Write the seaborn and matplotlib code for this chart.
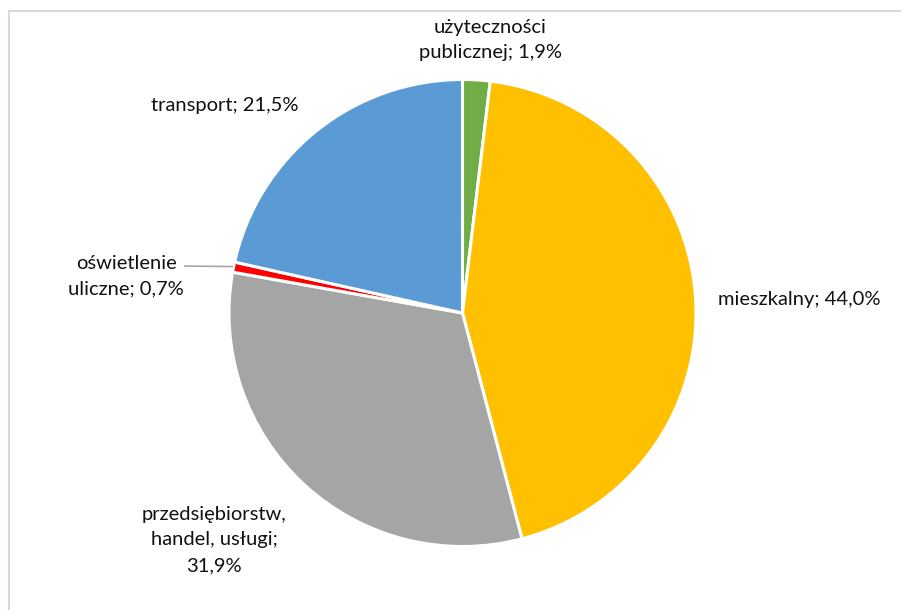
import seaborn as sns
import matplotlib.pyplot as plt
from matplotlib.patches import Rectangle

# dane: struktura zużycia wg sektorów
sectors = ['użyteczności\npublicznej;', 'mieszkalny;', 'przedsiębiorstw,\nhandel, usługi;\n',
           'oświetlenie\nuliczne;', 'transport;']
shares = [1.9, 44.0, 31.9, 0.7, 21.5]
colors = ['#70AD47', '#FFC000', '#A5A5A5', '#FF0000', '#5B9BD5']

sns.set_theme(style='white')
plt.rcParams['font.family'] = ['Lato', 'DejaVu Sans']

fig = plt.figure(figsize=(9.01, 6.10), dpi=100)
# ramka obszaru wykresu
fig.patches.append(Rectangle((8.5 / 901, -0.1), 1.2, (610 - 10.5) / 610 + 0.1,
                             transform=fig.transFigure, fill=False,
                             edgecolor='#D9D9D9', linewidth=1.5))

ax = fig.add_axes([229 / 901, (297 - 233.5) / 610, 467 / 901, 467 / 610])
ax.pie(shares, colors=colors, startangle=90, counterclock=False, radius=1,
       wedgeprops=dict(edgecolor='white', linewidth=2.2))
ax.set_xlim(-1, 1)
ax.set_ylim(-1, 1)
ax.set_aspect('equal')
ax.axis('off')


def lab(i):
    sep = '' if sectors[i].endswith('\n') else ' '
    return sectors[i] + sep + ('%.1f' % shares[i]).replace('.', ',') + '%'


txt = dict(fontsize=14.5, color='#111111', linespacing=1.62, clip_on=False)
ax.text(0.118, 1.169, lab(0), ha='center', va='center', **txt)
ax.text(1.094, 0.056, lab(1), ha='left', va='center', **txt)
ax.text(-1.064, -0.972, lab(2), ha='center', va='center', **txt)
ax.text(-1.44, 0.158, lab(3), ha='center', va='center', **txt)
ax.text(-1.017, 0.887, lab(4), ha='center', va='center', **txt)
# linia odniesienia dla małego wycinka
ax.plot([-1.19, -0.985], [0.201, 0.199], color='#A6A6A6', linewidth=1.2, clip_on=False)

plt.savefig('out.png', dpi=100)
